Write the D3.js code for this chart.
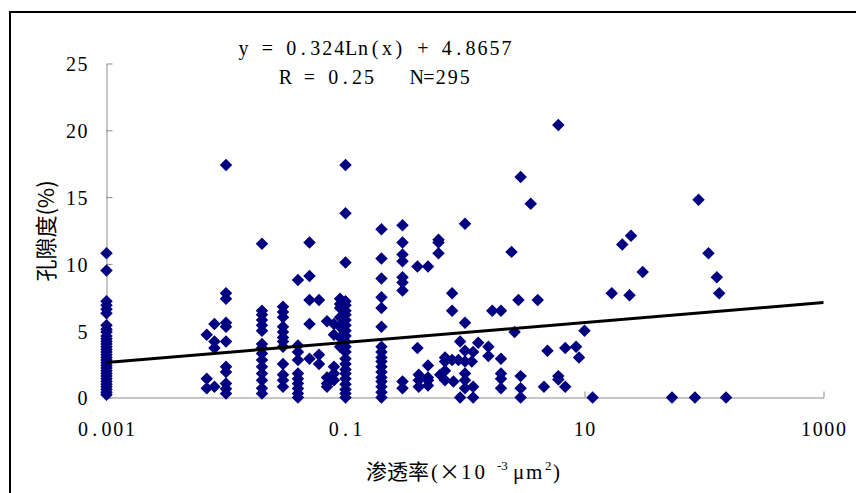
<!DOCTYPE html>
<html>
<head>
<meta charset="utf-8">
<script src="https://cdn.jsdelivr.net/npm/d3@7/dist/d3.min.js"></script>
<style>
  html, body { margin: 0; padding: 0; background: #fff; }
  svg { display: block; }
</style>
</head>
<body>
<svg id="chart" width="856" height="493"></svg>
<script>
// ---------- DATA ----------
// permeability columns (x, ×10^-3 μm²)
const permeabilityColumns = [
  0.001, 0.0069, 0.008, 0.01, 0.02, 0.03, 0.04, 0.05, 0.06, 0.07, 0.08, 0.09, 0.1,
  0.2, 0.3, 0.4, 0.41, 0.49, 0.6, 0.62, 0.68, 0.78, 0.8, 0.88, 0.91, 1.0, 1.14, 1.17,
  1.29, 1.57, 1.69, 2.0, 2.45, 2.6, 2.8, 2.92, 3.55, 4.06, 4.58, 4.9, 6.04, 6.9,
  8.5, 9.0, 10.0, 11.7, 16.9, 20.7, 23.8, 24.5, 30.7, 54, 84, 90, 109, 128, 134, 153
];
// porosity values (%) for each permeability column
const porosityByColumn = [
  [10.8, 9.5, 7.2, 6.9, 6.6, 6.3, 5.4, 5.1, 4.9, 4.6, 4.4, 4.2, 4.0, 3.8, 3.6, 3.4, 3.2, 3.0, 2.8, 2.6, 2.4, 2.2, 2.0, 1.8, 1.6, 1.4, 1.2, 1.0, 0.8, 0.6, 0.4, 0.2],
  [4.7, 1.4, 0.7],
  [5.5, 4.2, 3.7, 0.8],
  [17.4, 7.8, 7.4, 5.6, 5.3, 4.2, 2.3, 1.9, 1.05, 0.65, 0.3],
  [11.5, 6.5, 6.2, 5.8, 5.4, 5.0, 4.0, 3.7, 3.3, 2.8, 2.3, 1.8, 1.3, 0.7, 0.3],
  [6.8, 6.4, 6.0, 5.3, 4.9, 4.5, 4.2, 3.8, 2.5, 1.7, 1.3, 0.8],
  [8.8, 3.9, 3.4, 2.8, 1.8, 1.4, 1.05, 0.67, 0.3, 0.0],
  [11.6, 9.1, 7.3, 5.5, 2.9],
  [7.3, 3.2, 2.5],
  [5.7, 1.5, 1.05, 0.8],
  [5.5, 4.7, 2.3, 1.8, 1.3],
  [7.4, 7.0, 6.7, 6.0, 5.3, 4.5, 3.8],
  [17.4, 13.8, 10.1, 7.2, 6.9, 6.5, 6.2, 5.8, 5.4, 5.0, 4.6, 4.2, 3.8, 3.4, 2.9, 2.5, 2.1, 1.8, 1.4, 1.0, 0.6, 0.3, 0.0],
  [12.6, 10.4, 8.9, 7.5, 6.7, 5.3, 3.8, 3.4, 3.0, 2.7, 2.3, 1.9, 1.5, 1.2, 0.8, 0.4, 0.0],
  [12.9, 11.6, 10.7, 10.2, 9.0, 8.6, 8.0, 1.2, 0.7],
  [9.8, 3.7],
  [1.7, 1.3, 0.8],
  [9.8, 2.4, 1.5, 1.3, 0.9],
  [11.8, 11.6, 10.8],
  [1.7],
  [3.0, 2.7, 2.0, 1.3],
  [7.8, 6.5, 2.8],
  [1.2],
  [2.8],
  [4.2, 0.0],
  [13.0, 5.6, 3.5, 2.7, 1.8, 1.3, 0.7],
  [2.7],
  [3.4, 0.8, 0.0],
  [4.1],
  [3.8, 3.1],
  [6.5],
  [6.5, 2.9, 1.8, 1.4, 0.7],
  [10.9],
  [4.9],
  [7.3],
  [16.5, 1.6, 0.7, 0.0],
  [14.5],
  [7.3],
  [0.8],
  [3.5],
  [20.4, 1.6, 1.35],
  [3.7, 0.8],
  [3.8],
  [3.0],
  [5.0],
  [0.0],
  [7.8],
  [11.45],
  [7.65],
  [12.1],
  [9.4],
  [0.0],
  [0.0],
  [14.8],
  [10.8],
  [9.0],
  [7.8],
  [0.0]
];
const xTickValues = [0.001, 0.1, 10, 1000];
const xTickLabels = ["0.001", "0.1", "10", "1000"];
const yTickValues = [0, 5, 10, 15, 20, 25];
const yTickLabels = ["0", "5", "10", "15", "20", "25"];
const trendSlope = 0.324;
const trendIntercept = 4.8657;
const equationLines = ["y = 0.324Ln(x) + 4.8657", "R = 0.25   N=295"];
const yTitle = "孔隙度(%)";

// ---------- CHART ----------
const svg = d3.select("#chart");
const x = d3.scaleLog().domain([0.001, 1000]).range([106.5, 823.5]);
const y = d3.scaleLinear().domain([0, 25]).range([397.5, 63.5]);
const serif = "'Liberation Serif', 'DejaVu Serif', serif";
const cjk = "'Noto Sans CJK SC', 'Noto Sans CJK JP', sans-serif";

// outer frame (left & top visible)
svg.append("rect")
  .attr("x", 10).attr("y", 12).attr("width", 900).attr("height", 600)
  .attr("fill", "none").attr("stroke", "#000").attr("stroke-width", 2);

// axes
const xAxis = d3.axisBottom(x).tickValues(xTickValues).tickSizeInner(-6).tickSizeOuter(0).tickFormat(() => "");
const yAxis = d3.axisLeft(y).tickValues(yTickValues).tickSizeInner(-6).tickSizeOuter(0).tickFormat(() => "");
const gx = svg.append("g").attr("transform", "translate(0,397.5)").call(xAxis);
const gy = svg.append("g").attr("transform", "translate(106.5,0)").call(yAxis);
[gx, gy].forEach(g => {
  g.selectAll("path, line").attr("stroke", "#8c8c8c").attr("stroke-width", 1);
  g.selectAll("text").remove();
});

// monospaced-cell text helper (half-width glyph cells)
function cellText(g, str, firstCenter, baseline, cell, size) {
  [...str].forEach((ch, i) => {
    if (ch === " ") return;
    g.append("text")
      .attr("x", firstCenter + i * cell)
      .attr("y", baseline)
      .attr("text-anchor", "middle")
      .attr("font-family", serif)
      .attr("font-size", size)
      .attr("fill", "#000")
      .text(ch);
  });
}

// x tick labels (centered on ticks)
const labels = svg.append("g");
xTickValues.forEach((v, i) => {
  const s = xTickLabels[i];
  const cell = 11.7;
  const c0 = x(v) - (s.length - 1) * cell / 2;
  cellText(labels, s, c0, 436, cell, 20);
});
// y tick labels (right aligned)
yTickValues.forEach((v, i) => {
  const s = yTickLabels[i];
  const cell = 11.4;
  const c0 = 82.5 - (s.length - 1) * cell;
  cellText(labels, s, c0, y(v) + 7.8, cell, 20);
});

// equation text (centered)
equationLines.forEach((s, i) => {
  const cell = 11.95;
  const c0 = 375 - (s.length - 1) * cell / 2;
  cellText(labels, s, c0, i === 0 ? 54.5 : 83.5, cell, 20);
});

// y title
svg.append("text")
  .attr("transform", "translate(44,231) rotate(-90)")
  .attr("text-anchor", "middle")
  .attr("dominant-baseline", "central")
  .attr("font-family", cjk)
  .attr("font-size", 22)
  .attr("fill", "#000")
  .text(yTitle);

// x title
const xt = svg.append("text").attr("y", 479).attr("fill", "#000").attr("font-size", 21);
xt.append("tspan").attr("x", 366).attr("font-family", cjk).text("渗透率");
xt.append("tspan").attr("x", 431).attr("font-family", serif).text("(");
xt.append("tspan").attr("x", 439).attr("font-family", cjk).text("×");
xt.append("tspan").attr("x", 461).attr("font-family", serif).attr("letter-spacing", 3).text("10");
xt.append("tspan").attr("x", 497).attr("dy", -9).attr("font-family", serif).attr("font-size", 13).text("-3");
xt.append("tspan").attr("x", 513).attr("dy", 9).attr("font-family", serif).text("μ");
xt.append("tspan").attr("x", 526).attr("font-family", serif).text("m");
xt.append("tspan").attr("x", 545).attr("dy", -9).attr("font-family", serif).attr("font-size", 13).text("2");
xt.append("tspan").attr("x", 553).attr("dy", 9).attr("font-family", serif).text(")");

// points
const points = [];
permeabilityColumns.forEach((k, i) => porosityByColumn[i].forEach(p => points.push({ k, p })));
const diamond = d3.symbol(d3.symbolSquare, 78)();
svg.append("g").selectAll("path").data(points).join("path")
  .attr("d", diamond)
  .attr("transform", d => `translate(${x(d.k)},${y(d.p)}) rotate(45)`)
  .attr("fill", "#000080");

// trendline
const trendDomain = x.domain();
svg.append("path")
  .datum(trendDomain.map(k => ({ k, p: trendSlope * Math.log(k) + trendIntercept })))
  .attr("d", d3.line().x(d => x(d.k)).y(d => y(d.p)))
  .attr("fill", "none").attr("stroke", "#000").attr("stroke-width", 3);
</script>
</body>
</html>
